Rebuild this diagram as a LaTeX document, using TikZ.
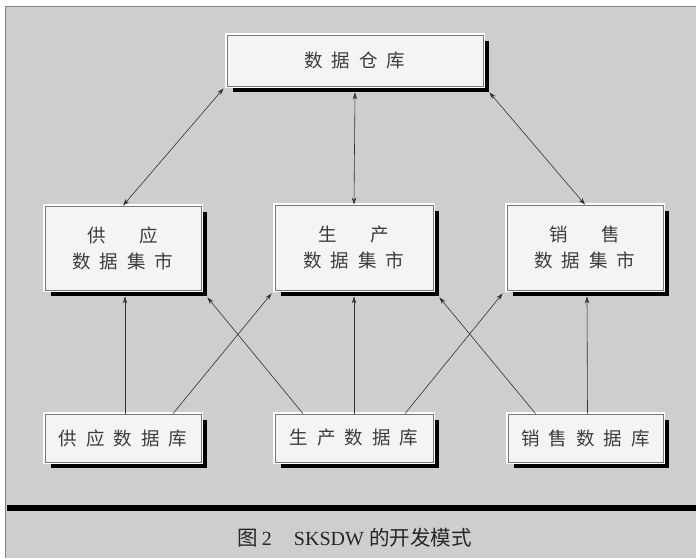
\documentclass[tikz,border=0pt]{standalone}
\usepackage{fontspec}
\setmainfont{Liberation Serif}
\newfontfamily\cjk{Noto Sans CJK SC}
\usetikzlibrary{shadows,arrows.meta,calc}
\definecolor{bg}{RGB}{206,206,206}
\definecolor{frameline}{RGB}{130,130,130}
\definecolor{boxline}{RGB}{120,120,120}
\definecolor{boxfill}{RGB}{244,244,244}
\definecolor{txt}{RGB}{60,60,60}
\definecolor{lc}{RGB}{50,50,50}
\newcommand\cg{\hspace{9pt}}
\begin{document}
\begin{tikzpicture}[x=1pt,y=-1pt,
  box/.style={draw=boxline, line width=0.8pt, fill=boxfill,
    drop shadow={shadow xshift=6pt, shadow yshift=-6pt, fill=black, opacity=1},
    preaction={draw=white, line width=4pt},
    text=txt, font=\cjk\fontsize{18.5}{26}\selectfont, align=center, inner sep=0pt},
  conn/.style={draw=lc, line width=0.6pt, -{Stealth[length=7pt,width=4.5pt]}},
  dconn/.style={draw=lc, line width=0.6pt, {Stealth[length=7pt,width=4.5pt]}-{Stealth[length=7pt,width=4.5pt]}}]
\useasboundingbox (0,0) rectangle (696,558);
\fill[white] (0,0) rectangle (696,558);
\fill[bg] (5,6.5) rectangle (696,558);
\draw[frameline, line width=1pt] (5,558) -- (5,6.5) -- (696,6.5);
\draw[black, line width=5.5pt] (7,508) -- (696,508);

\node[box, minimum width=256pt, minimum height=51pt] (top) at (355,60.5) {数\cg{}据\cg{}仓\cg{}库};

\node[box, minimum width=156pt, minimum height=84pt] (smart) at (123,248) {供\hspace{34pt}应\\数\cg{}据\cg{}集\cg{}市};
\node[box, minimum width=158pt, minimum height=85pt] (pmart) at (354,247.5) {生\hspace{34pt}产\\数\cg{}据\cg{}集\cg{}市};
\node[box, minimum width=156pt, minimum height=85pt] (samrt) at (585,247.5) {销\hspace{34pt}售\\数\cg{}据\cg{}集\cg{}市};

\node[box, minimum width=156pt, minimum height=48pt] (sdb) at (123,438) {供\cg{}应\cg{}数\cg{}据\cg{}库};
\node[box, minimum width=158pt, minimum height=48pt] (pdb) at (354,438) {生\cg{}产\cg{}数\cg{}据\cg{}库};
\node[box, minimum width=155pt, minimum height=48pt] (sadb) at (585.5,438) {销\cg{}售\cg{}数\cg{}据\cg{}库};

\draw[dconn] ([shift={(-3pt,-2pt)}]top.south west) -- (smart.north);
\draw[dconn] ([yshift=-6pt]top.south) -- (pmart.north);
\draw[dconn] ([shift={(6pt,-6pt)}]top.south east) -- (samrt.north);

\draw[conn] ([xshift=2pt]sdb.north) -- ([shift={(2pt,-6pt)}]smart.south);
\draw[conn] ([xshift=50pt]sdb.north) -- ([shift={(-3pt,-3pt)}]pmart.south west);
\draw[conn] ([xshift=-51pt]pdb.north) -- ([shift={(6pt,-7pt)}]smart.south east);
\draw[conn] (pdb.north) -- ([yshift=-6pt]pmart.south);
\draw[conn] ([xshift=51pt]pdb.north) -- ([shift={(-4pt,-3pt)}]samrt.south west);
\draw[conn] ([xshift=-50pt]sadb.north) -- ([shift={(6pt,-7pt)}]pmart.south east);
\draw[conn] ([xshift=2pt]sadb.north) -- ([shift={(2pt,-6pt)}]samrt.south);

\node[font=\fontsize{20}{22}\selectfont, text=black!85] (cap) at (354.5,538) {{\cjk\fontsize{20.5}{22}\selectfont 图}\hspace{4pt}2\hspace{22pt}SKSDW\hspace{5pt}{\cjk\fontsize{20.5}{22}\selectfont 的开发模式}};
\end{tikzpicture}
\end{document}
